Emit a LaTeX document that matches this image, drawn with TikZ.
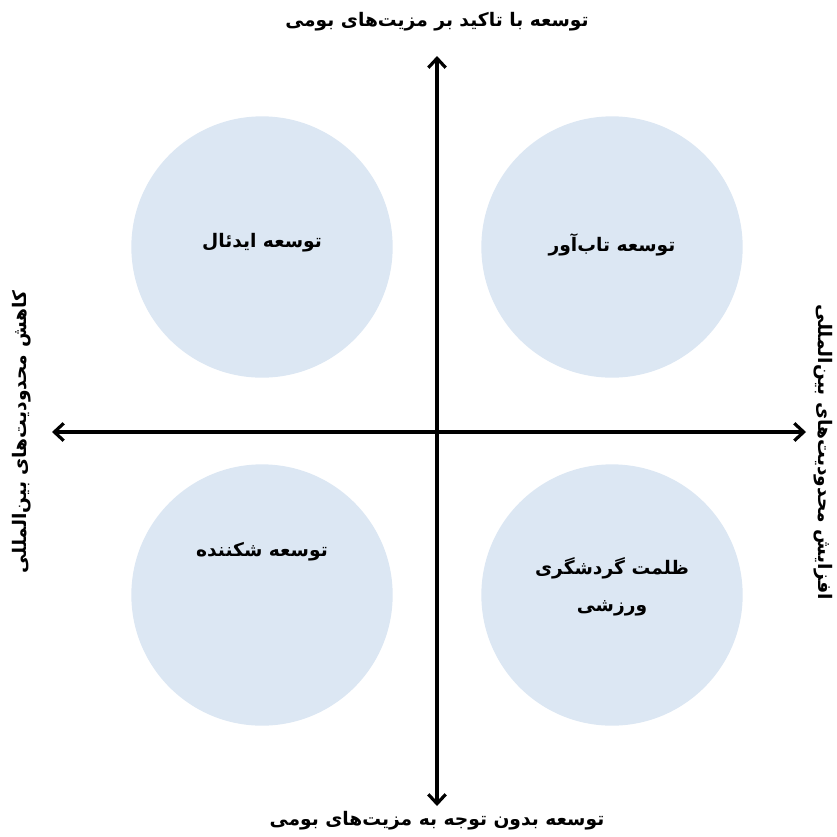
\documentclass[tikz,border=0pt]{standalone}
\usepackage{fontspec}
\usetikzlibrary{arrows.meta}
\TeXXeTstate=1
\newfontfamily\arabicfont[Script=Arabic]{DejaVu Sans}
\definecolor{circfill}{HTML}{DCE7F3}
\tikzset{
  quad/.style={circle, fill=circfill, minimum size=196pt, inner sep=0pt},
  qlabel/.style={font=\arabicfont\bfseries\fontsize{14}{16}\selectfont, align=center},
  axlabel/.style={font=\arabicfont\bfseries\fontsize{14}{16}\selectfont},
  axis/.style={line width=2.4pt, {Straight Barb[length=7pt,width=13pt]}-{Straight Barb[length=7pt,width=13pt]}}
}
\begin{document}
\begin{tikzpicture}[x=0.75pt,y=-0.75pt]
\useasboundingbox (0,0) rectangle (837,836);
\node[quad] (tl) at (262,247) {};
\node[quad] (tr) at (612,247) {};
\node[quad] (bl) at (262,595) {};
\node[quad] (br) at (612,595) {};
\node[qlabel] (tlt) at (262,243) {\beginR توسعه ایدئال\endR};
\node[qlabel] (trt) at (612,245) {\beginR توسعه تاب^^^^200cآور\endR};
\node[qlabel] (blt) at (262,552) {\beginR توسعه شکننده\endR};
\node[qlabel] (brt1) at (612,568) {\beginR ظلمت گردشگری\endR};
\node[qlabel] (brt2) at (612,608) {\beginR ورزشی\endR};
\coordinate (L) at (52,432);
\coordinate (R) at (806,432);
\coordinate (T) at (437,56);
\coordinate (B) at (437,806);
\draw[axis] (L) -- (R);
\draw[axis] (B) -- (T);
\node[axlabel] (top) at (437,22) {\beginR توسعه با تاکید بر مزیت^^^^200cهای بومی\endR};
\node[axlabel] (bot) at (437,821) {\beginR توسعه بدون توجه به مزیت^^^^200cهای بومی\endR};
\node[axlabel, rotate=90] (lft) at (22,432) {\beginR کاهش محدودیت^^^^200cهای بین^^^^200cالمللی\endR};
\node[axlabel, rotate=-90] (rgt) at (823,452) {\beginR افزایش محدودیت^^^^200cهای بین^^^^200cالمللی\endR};
\end{tikzpicture}
\end{document}
